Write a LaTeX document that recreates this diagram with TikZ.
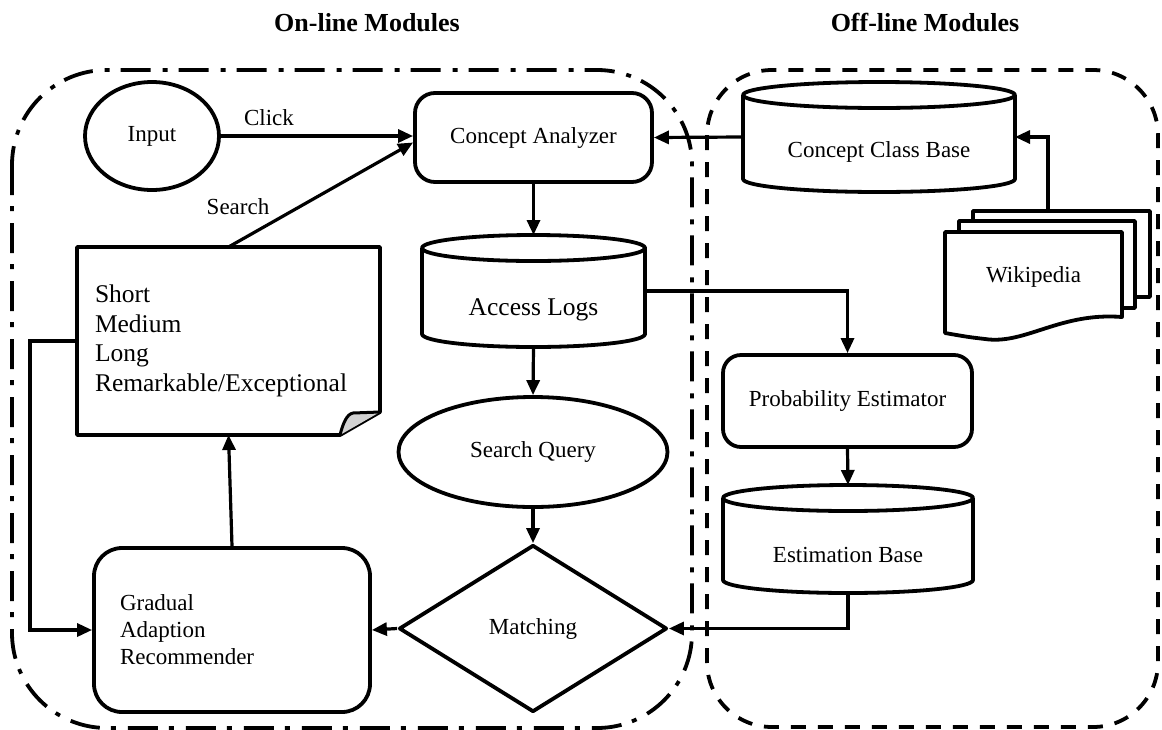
\documentclass[tikz,border=0pt]{standalone}
\usepackage{fontspec}
\setmainfont{Liberation Serif}
\usetikzlibrary{shapes.geometric,arrows.meta,calc}
\newcommand\cylshape[3]{%
  \draw[nodeline] ([yshift=-#3pt]#1.north west) -- ([yshift=#3pt]#1.south west)
     arc[start angle=180,end angle=0,x radius=#2,y radius=#3] -- ([yshift=-#3pt]#1.north east);
  \draw[nodeline] ([yshift=-#3pt]#1.north) ellipse[x radius=#2, y radius=#3];
}
\begin{document}
\begin{tikzpicture}[x=1pt,y=-1pt,
  nodeline/.style={line width=3.8pt, line join=round},
  arr/.style={line width=3.2pt, -{Triangle[length=15pt,width=13pt]}},
  f23/.style={font=\fontsize{23}{27}\selectfont},
  f25/.style={font=\fontsize{25.5}{29.7}\selectfont},
  rbox/.style={draw, nodeline, rectangle, f23, inner sep=0pt},
  anchorbox/.style={rectangle, inner sep=0pt, outer sep=0pt, draw=none},
  online/.style={line width=3.8pt, dash pattern=on 30pt off 11pt on 5pt off 12pt},
  offline/.style={line width=3.8pt, dash pattern=on 15pt off 12pt},
  title/.style={font=\bfseries\fontsize{26}{30}\selectfont},
]
\useasboundingbox (0,0) rectangle (1162,729);

% module boundaries
\draw[online, rounded corners=95pt] (12,70) rectangle (692,728);
\draw[offline, rounded corners=65pt] (707,70) rectangle (1158,727);

% titles
\node[title] (ton) at (367,23) {On-line Modules};
\node[title] (toff) at (925,23) {Off-line Modules};

% nodes
\node[draw, nodeline, ellipse, f23, minimum width=134pt, minimum height=108pt, inner sep=0pt] (input) at (152,136) {Input};
\node[rbox, rounded corners=20pt, minimum width=237pt, minimum height=89pt] (ca) at (533.5,137.5) {Concept Analyzer};

\node[anchorbox, minimum width=223pt, minimum height=112pt, label={[f25,yshift=-19pt]center:Access Logs}] (al) at (533.5,291) {};
\cylshape{al}{111.5}{13}

\node[anchorbox, minimum width=272pt, minimum height=110pt, label={[f23,yshift=-15pt]center:Concept Class Base}] (ccb) at (879,137) {};
\cylshape{ccb}{136}{13}

\node[anchorbox, minimum width=250pt, minimum height=108pt, label={[f23,yshift=-16pt]center:Estimation Base}] (eb) at (848,539) {};
\cylshape{eb}{125}{13}

% note
\node[anchorbox, minimum width=303pt, minimum height=188pt, text width=267pt, align=left, inner xsep=18pt, f25] (note) at (228.5,341) {Short\\Medium\\Long\\Remarkable/Exceptional};
\draw[nodeline] (note.north west) -- (note.north east) -- ([yshift=23pt]note.south east)
   -- ([xshift=-40pt]note.south east) -- (note.south west) -- cycle;
\filldraw[line width=3pt, line join=round, fill=gray!35] ([xshift=-40pt]note.south east)
   .. controls +(3,-12) and +(-6,1) .. ([xshift=-27pt,yshift=22pt]note.south east)
   -- ([yshift=23pt]note.south east);

% wikipedia multi-document
\filldraw[nodeline, fill=white] (973,211) rectangle (1150,297);
\filldraw[nodeline, fill=white] (959,221) rectangle (1135,308);
\filldraw[nodeline, fill=white] (945,232) -- (1122,232) -- (1122,317)
   .. controls (1060,312) and (1025,345) .. (985,339) .. controls (968,337) .. (945,333) -- cycle;
\node[anchorbox, f23, minimum width=177pt, minimum height=90pt] (wiki) at (1033.5,277) {Wikipedia};

\node[rbox, rounded corners=18pt, minimum width=249pt, minimum height=92pt] (pe) at (847.5,401) {Probability Estimator};
\node[draw, nodeline, ellipse, f23, minimum width=269pt, minimum height=110pt, inner sep=0pt] (sq) at (533,452) {Search Query};
\node[draw, nodeline, diamond, f23, aspect=1.6, minimum width=268pt, minimum height=167pt, inner sep=0pt] (match) at (533,628.5) {Matching};
\node[rbox, rounded corners=28pt, minimum width=276pt, minimum height=164pt, text width=224pt, align=left, inner xsep=26pt] (grad) at (232,630) {Gradual\\Adaption\\Recommender};

% connectors
\draw[arr] (input.east) -- (input.east -| ca.west) node[pos=0.25, above=9pt, inner sep=0pt, f23] (click) {Click};
\draw[arr] (note.north) -- ([yshift=-5pt]ca.west);
\node[f23] (searchlbl) at (238,207) {Search};
\draw[arr] (ca.south) -- (al.north);
\draw[arr] (ccb.west) -- (ca.east);
\draw[arr] ([xshift=14.5pt,yshift=21pt]wiki.north) |- (ccb.east);
\draw[arr] (al.east) -| (pe.north);
\draw[arr] (al.south) -- (sq.north);
\draw[arr] (sq.south) -- (match.north);
\draw[arr] (pe.south) -- (eb.north);
\draw[arr] (eb.south) |- (match.east);
\draw[arr] (match.west) -- (grad.east);
\draw[arr] (grad.north) -- (note.south);
\draw[arr] (note.west) -- ++(-47,0) |- (grad.west);
\end{tikzpicture}
\end{document}
